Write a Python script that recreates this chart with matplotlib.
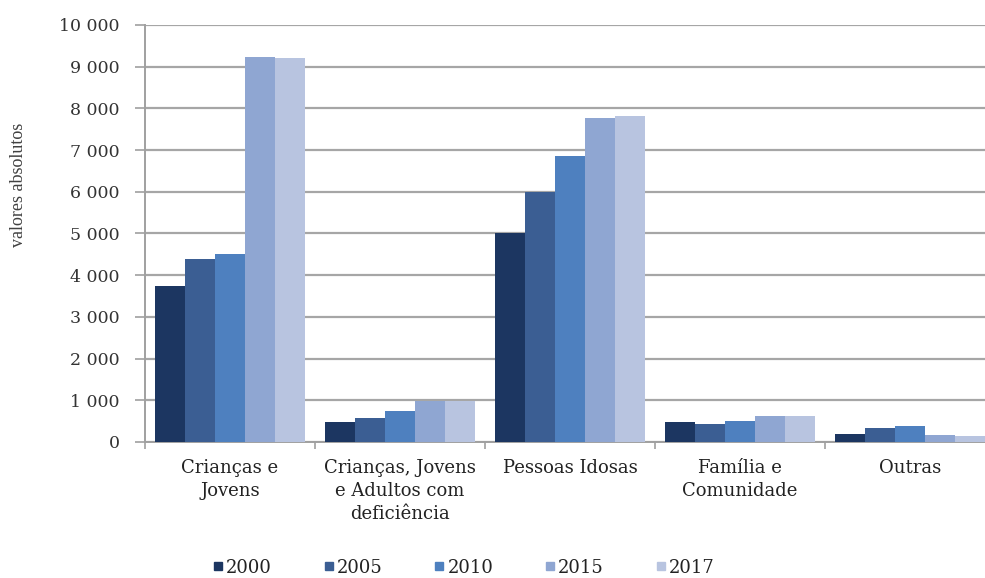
import numpy as np
import matplotlib
matplotlib.use("Agg")
import matplotlib.pyplot as plt
from matplotlib.lines import Line2D
from matplotlib.ticker import FuncFormatter

categories = ["Crianças e\nJovens",
              "Crianças, Jovens\ne Adultos com\ndeficiência",
              "Pessoas Idosas",
              "Família e\nComunidade",
              "Outras"]
years = ["2000", "2005", "2010", "2015", "2017"]

v2000 = [3740, 470, 5000, 480, 200]
v2005 = [4400, 580, 6000, 425, 335]
v2010 = [4500, 740, 6860, 505, 375]
v2015 = [9230, 980, 7780, 615, 160]
v2017 = [9200, 980, 7820, 615, 135]
series = [v2000, v2005, v2010, v2015, v2017]

colors = ["#1c3661", "#3b5e93", "#4e80bf", "#8fa6d2", "#b8c4e0"]

plt.rcParams["font.family"] = ["DejaVu Serif"]

fig = plt.figure(figsize=(9.85, 5.78), dpi=100)
ax = fig.add_axes([0.1472, 0.2353, 0.863, 0.7215])

x = np.arange(len(categories))
bw = 0.176
for i, vals in enumerate(series):
    ax.bar(x + (i - 2) * bw, vals, width=bw, color=colors[i],
           label=years[i], zorder=3)

ax.set_xlim(-0.5, 4.5)
ax.set_ylim(0, 10000)
ax.set_yticks(np.arange(0, 10001, 1000))
ax.yaxis.set_major_formatter(
    FuncFormatter(lambda v, p: f"{int(v):,}".replace(",", " ")))
ax.grid(axis="y", color="#a6a6a6", linewidth=1.6, zorder=0)
ax.set_axisbelow(True)

for s in ["top", "right"]:
    ax.spines[s].set_visible(False)
ax.spines["left"].set_color("#a0a0a0")
ax.spines["bottom"].set_color("#a0a0a0")
ax.spines["left"].set_linewidth(1.4)
ax.spines["bottom"].set_linewidth(1.4)

ax.tick_params(axis="y", length=7, width=1.2, color="#a0a0a0",
               labelsize=12.5, labelcolor="#333333", pad=11)
ax.set_xticks(x)
ax.set_xticklabels(categories, fontsize=13, color="#222222",
                   linespacing=1.37)
ax.tick_params(axis="x", length=0, pad=12)
ax.set_xticks(np.arange(-0.5, 5, 1), minor=True)
ax.tick_params(axis="x", which="minor", length=5, width=1.2, color="#a0a0a0")

fig.text(0.019, 0.68, "valores absolutos", rotation=90, ha="center",
         va="center", fontsize=13, color="#404040",
         family="Liberation Serif")

handles = [Line2D([0], [0], marker="s", linestyle="none", markersize=5.5,
                  markerfacecolor=c, markeredgecolor=c) for c in colors]
fig.legend(handles, years, loc="center", bbox_to_anchor=(0.471, 0.018),
           ncol=5, frameon=False, handlelength=0.5,
           handletextpad=0.2, columnspacing=2.9, labelcolor="#222222",
           prop={"size": 13})

fig.savefig("out.png", dpi=100)
